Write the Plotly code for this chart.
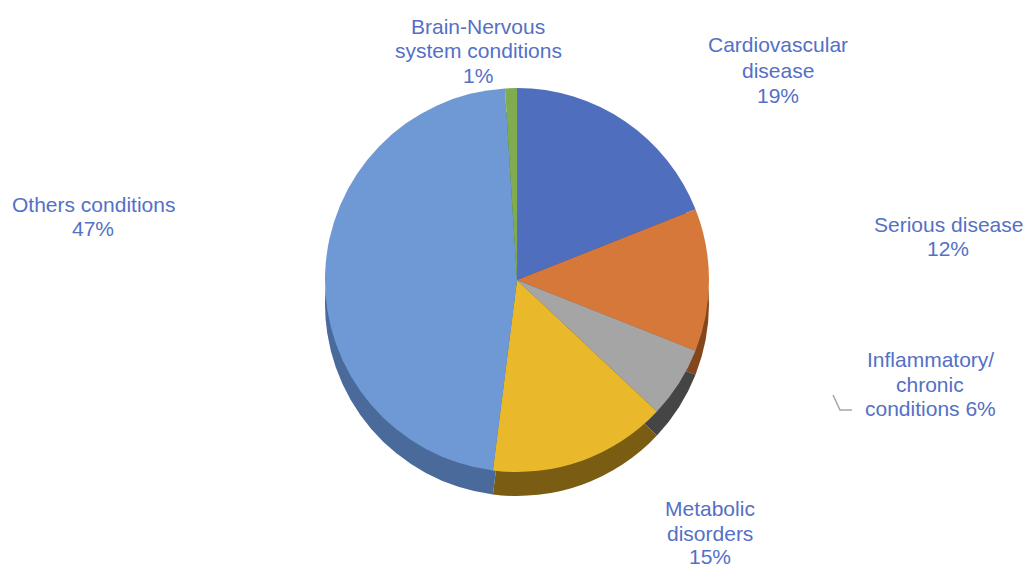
import plotly.graph_objects as go

# ---- data ----
categories = ["Cardiovascular disease", "Serious disease", "Inflammatory/ chronic conditions",
              "Metabolic disorders", "Others conditions", "Brain-Nervous system conditions"]
values = [19, 12, 6, 15, 47, 1]
label_lines = [["Cardiovascular", "disease", "19%"],
               ["Serious disease", "12%"],
               ["Inflammatory/", "chronic", "conditions 6%"],
               ["Metabolic", "disorders", "15%"],
               ["Others conditions", "47%"],
               ["Brain-Nervous", "system conditions", "1%"]]

# ---- styles ----
top_colors = ["#4F6EBD", "#D6783A", "#A5A5A5", "#E9B92B", "#6F99D4", "#7FAC4F"]
side_colors = ["#2F4478", "#84461C", "#454545", "#7A5D12", "#4A6A9C", "#4E6B2E"]
label_color = "#5470C6"
W, H = 1027, 567
FS = 21

# label x centre and baseline of each line, in pixels
label_x = [778, 948, 930, 710, 93, 478]
label_baselines = [[52, 77, 102], [232, 256], [366, 391, 415], [515, 540, 563], [212, 236],
                   [33, 57, 82]]

cx, cy, r, depth = 517, 280, 192, 24

def dom(cx, cy, r):
    return dict(x=[(cx - r) / W, (cx + r) / W], y=[1 - (cy + r) / H, 1 - (cy - r) / H])

fig = go.Figure()
# side wall (darker, shifted down)
fig.add_trace(go.Pie(labels=categories, values=values, sort=False, direction="clockwise",
                     rotation=0, textinfo="none", hoverinfo="skip", showlegend=False,
                     marker=dict(colors=side_colors, line=dict(width=0)),
                     domain=dom(cx, cy + depth, r)))
# top face
fig.add_trace(go.Pie(labels=categories, values=values, sort=False, direction="clockwise",
                     rotation=0, textinfo="none", showlegend=False,
                     marker=dict(colors=top_colors, line=dict(width=0)),
                     domain=dom(cx, cy, r)))

for lines, px, bls in zip(label_lines, label_x, label_baselines):
    for txt, bl in zip(lines, bls):
        fig.add_annotation(text=txt, x=px / W, y=1 - (bl - 7) / H, xref="paper", yref="paper",
                           xanchor="center", yanchor="middle", showarrow=False, align="center",
                           borderpad=0,
                           font=dict(family="Liberation Sans, Arial, sans-serif", size=FS,
                                     color=label_color))

# leader line for the small label
fig.add_shape(type="path", xref="paper", yref="paper",
              path=f"M {833/W} {1-395/H} L {840/W} {1-410/H} L {852/W} {1-410/H}",
              line=dict(color="#A6A6A6", width=1.5))

fig.update_layout(width=W, height=H, margin=dict(l=0, r=0, t=0, b=0),
                  paper_bgcolor="white", plot_bgcolor="white", showlegend=False)

fig.write_html("out.html", config={"displayModeBar": False},
               post_script="document.body.style.margin='0';")
